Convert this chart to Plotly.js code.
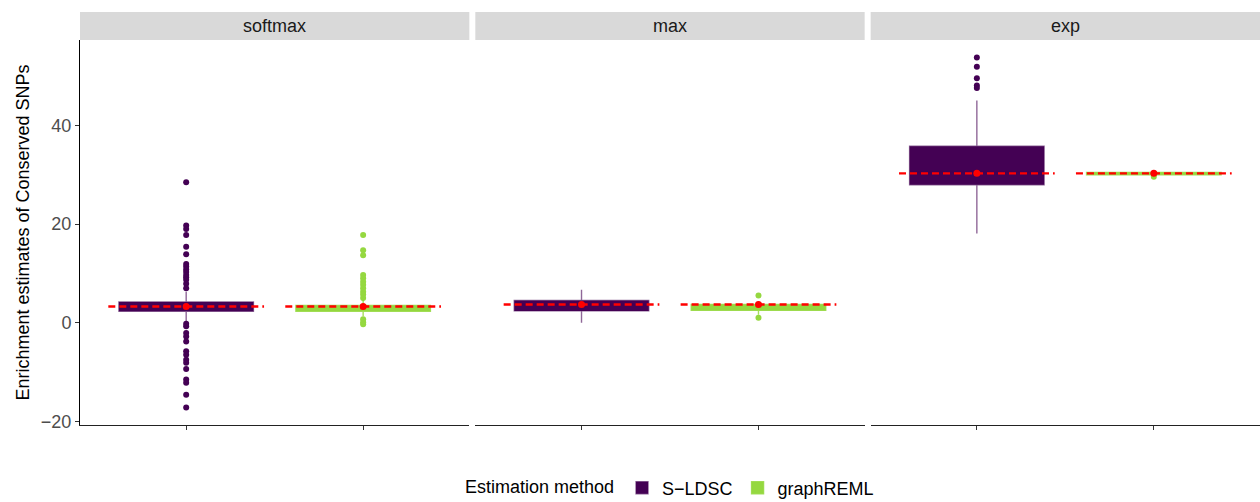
<!DOCTYPE html>
<html>
<head>
<meta charset="utf-8">
<script src="https://cdn.plot.ly/plotly-3.0.1.min.js"></script>
<style>
  html, body { margin: 0; padding: 0; background: #ffffff; }
  #chart { width: 1260px; height: 502px; }
</style>
</head>
<body>
<div id="chart"></div>
<script>
// Facets and estimation methods
const panels = ['softmax', 'max', 'exp'];
const methods = ['S\u2212LDSC', 'graphREML'];
const methodColors = ['#440154', '#95D840'];
const methodLines = ['rgba(68,1,84,0.6)', 'rgba(149,216,64,0.85)'];

// Box summaries per facet: [S-LDSC, graphREML]
const q1 =         { softmax: [2.3, 2.3],  max: [2.4, 2.5], exp: [28.0, 30.0] };
const median =     { softmax: [3.2, 3.0],  max: [3.6, 3.1], exp: [30.6, 30.2] };
const q3 =         { softmax: [4.2, 3.5],  max: [4.5, 3.7], exp: [35.8, 30.5] };
const lowerFence = { softmax: [0.3, 1.3],  max: [0.0, 1.6], exp: [18.1, 29.8] };
const upperFence = { softmax: [6.3, 4.6],  max: [6.7, 4.4], exp: [45.1, 30.8] };
const means =      { softmax: [3.3, 3.3],  max: [3.7, 3.7], exp: [30.3, 30.3] };

// Outlying estimates per facet: [S-LDSC, graphREML]
const outliers = {
  softmax: [
    [28.5, 19.7, 19.0, 17.8, 15.4, 13.9, 11.9, 11.4, 10.8, 10.3, 9.7, 9.2, 8.7, 7.9, 7.0,
     -0.2, -0.7, -2.1, -2.8, -3.8, -5.8, -6.5, -7.5, -8.1, -9.4, -11.5, -12.2, -14.6, -17.2],
    [17.8, 14.7, 13.7, 9.7, 9.0, 8.3, 7.7, 7.0, 6.3, 5.7, 5.0, 0.7, 0.1, -0.3]
  ],
  max: [
    [],
    [5.5, 1.0]
  ],
  exp: [
    [53.8, 51.9, 49.6, 48.1, 47.6],
    [29.6]
  ]
};

const yTicks = [-20, 0, 20, 40];

// Facet geometry (pixels inside the plotting area)
const plotW = 1180, plotH = 385, gapPx = 6;
const panelW = (plotW - 2 * gapPx) / 3;
const axisNames = ['x', 'x2', 'x3'];
const boxWidth = 0.76, meanHalf = 0.44;
const textSize = 18;

const traces = [];
panels.forEach((p, pi) => {
  const xa = axisNames[pi];
  methods.forEach((m, mi) => {
    const xpos = mi + 1;
    traces.push({
      type: 'box', name: m, legendgroup: m, showlegend: pi === 0,
      xaxis: xa, yaxis: 'y',
      x: [xpos], q1: [q1[p][mi]], median: [median[p][mi]], q3: [q3[p][mi]],
      lowerfence: [lowerFence[p][mi]], upperfence: [upperFence[p][mi]],
      width: boxWidth, whiskerwidth: 0, boxpoints: false,
      fillcolor: methodColors[mi],
      line: { color: methodLines[mi], width: 1.4 },
      hoverinfo: 'skip'
    });
    if (outliers[p][mi].length) {
      traces.push({
        type: 'scatter', mode: 'markers', showlegend: false, legendgroup: m,
        xaxis: xa, yaxis: 'y',
        x: outliers[p][mi].map(() => xpos), y: outliers[p][mi],
        marker: { color: methodColors[mi], size: 6 },
        hoverinfo: 'skip'
      });
    }
  });
  // Mean of each method: dashed reference line and a point
  methods.forEach((m, mi) => {
    const xpos = mi + 1;
    traces.push({
      type: 'scatter', mode: 'lines', showlegend: false,
      xaxis: xa, yaxis: 'y',
      x: [xpos - meanHalf, xpos + meanHalf], y: [means[p][mi], means[p][mi]],
      line: { color: '#FF0000', width: 2.4, dash: '7px,4px' },
      hoverinfo: 'skip'
    });
    traces.push({
      type: 'scatter', mode: 'markers', showlegend: false,
      xaxis: xa, yaxis: 'y',
      x: [xpos], y: [means[p][mi]],
      marker: { color: '#FF0000', size: 7 },
      hoverinfo: 'skip'
    });
  });
});

const stripH = 28 / plotH;
const shapes = [], annotations = [];
const layout = {
  width: 1260, height: 502,
  margin: { l: 80, r: 0, t: 40, b: 77 },
  paper_bgcolor: '#ffffff', plot_bgcolor: '#ffffff',
  font: { family: 'Liberation Sans, Arial, sans-serif', color: '#000000' },
  showlegend: true, hovermode: false,
  yaxis: {
    domain: [0, 1], anchor: 'x',
    range: [-20.75, 57.35],
    tickvals: yTicks, ticktext: yTicks.map(v => v < 0 ? '\u2212' + Math.abs(v) : String(v)),
    ticks: 'outside', ticklen: 4, tickwidth: 1, tickcolor: '#333333',
    showline: true, linecolor: '#000000', linewidth: 1,
    showgrid: false, zeroline: false,
    tickfont: { size: textSize, color: '#4D4D4D' },
    title: { text: 'Enrichment estimates of Conserved SNPs', font: { size: textSize, color: '#000000' }, standoff: 6 }
  },
  legend: {
    orientation: 'h', x: 0.5008, xanchor: 'center',
    yref: 'container', y: 14 / 502, yanchor: 'middle',
    title: { text: 'Estimation method', side: 'left', font: { size: textSize } },
    font: { size: textSize }, itemwidth: 30, tracegroupgap: 0
  },
  shapes: shapes, annotations: annotations
};

panels.forEach((p, pi) => {
  const x0 = (pi * (panelW + gapPx)) / plotW;
  const x1 = (pi * (panelW + gapPx) + panelW) / plotW;
  const key = pi === 0 ? 'xaxis' : 'xaxis' + (pi + 1);
  layout[key] = {
    domain: [x0, x1], anchor: 'y',
    range: [0.4, 2.6],
    tickvals: [1, 2], showticklabels: false,
    ticks: 'outside', ticklen: 4, tickwidth: 1, tickcolor: '#333333',
    showline: true, linecolor: '#222222', linewidth: 1,
    showgrid: false, zeroline: false
  };
  shapes.push({
    type: 'rect', xref: 'paper', yref: 'paper',
    x0: x0, x1: x1, y0: 1, y1: 1 + stripH,
    fillcolor: '#D9D9D9', line: { width: 0 }, layer: 'below'
  });
  annotations.push({
    xref: 'paper', yref: 'paper', x: (x0 + x1) / 2, y: 1 + stripH / 2,
    text: p, showarrow: false, xanchor: 'center', yanchor: 'middle',
    font: { size: textSize, color: '#1A1A1A' }
  });
});

Plotly.newPlot('chart', traces, layout, { staticPlot: true, displayModeBar: false });
</script>
</body>
</html>
